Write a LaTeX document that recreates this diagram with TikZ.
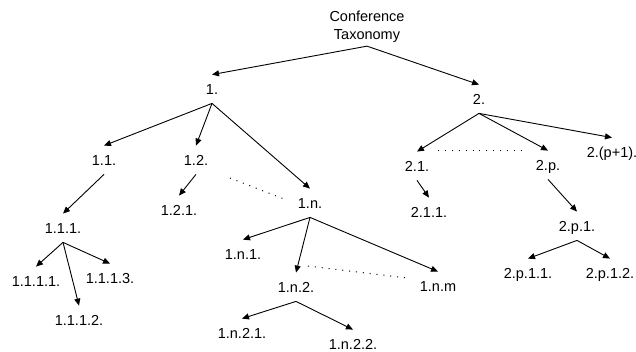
\documentclass[tikz,border=0pt]{standalone}
\usepackage{fontspec}
\setmainfont{Liberation Sans}
\usetikzlibrary{arrows.meta}
\begin{document}
\begin{tikzpicture}[x=1pt,y=-1pt,
  lbl/.style={font=\fontsize{14.5}{18}\selectfont, inner xsep=1pt, inner ysep=9pt, text height=10.4pt, text depth=0pt},
  arr/.style={-{Triangle[length=7pt,width=6pt]}, line width=0.9pt},
  dotline/.style={line width=1pt, dash pattern=on 1pt off 5.9pt}]
\useasboundingbox (0,0) rectangle (636,352);
\node[font=\fontsize{14.5}{18}\selectfont, align=center, inner sep=3.8pt] (root) at (367,26.4) {Conference\\Taxonomy};
\node[lbl] (n1) at (212,89) {1.};
\node[lbl] (n2) at (479,99) {2.};
\node[lbl] (n11) at (104,160) {1.1.};
\node[lbl] (n12) at (196,160) {1.2.};
\node[lbl] (n1n) at (310,203) {1.n.};
\node[lbl] (n21) at (417,166) {2.1.};
\node[lbl] (n2p) at (548,165) {2.p.};
\node[lbl] (n2q) at (612,152) {2.(p+1).};
\node[lbl] (n111) at (63,228) {1.1.1.};
\node[lbl] (n121) at (179,210) {1.2.1.};
\node[lbl] (n211) at (429,212) {2.1.1.};
\node[lbl] (n2p1) at (577,226) {2.p.1.};
\node[lbl] (n1111) at (36,281) {1.1.1.1.};
\node[lbl] (n1113) at (110,278) {1.1.1.3.};
\node[lbl] (n1112) at (79,320) {1.1.1.2.};
\node[lbl] (n1n1) at (243,254) {1.n.1.};
\node[lbl] (n1n2) at (296,287) {1.n.2.};
\node[lbl] (n1nm) at (438,286) {1.n.m};
\node[lbl] (n1n21) at (242,333) {1.n.2.1.};
\node[lbl] (n1n22) at (353,344) {1.n.2.2.};
\node[lbl] (n2p11) at (528,273) {2.p.1.1.};
\node[lbl] (n2p12) at (610,273) {2.p.1.2.};
\draw[arr] (root.south) -- (n1.north);
\draw[arr] (root.south) -- (n2.north);
\draw[arr] (n1.south) -- (n11.north);
\draw[arr] (n1.south) -- (n12.north);
\draw[arr] (n1.south) -- (n1n.north);
\draw[arr] (n2.south) -- (n21.north);
\draw[arr] (n2.south) -- (n2p.north);
\draw[arr] (n2.south) -- (n2q.north);
\draw[arr] (n11.south) -- (n111.north);
\draw[arr] (n12.south) -- (n121.north);
\draw[arr] (n21.south) -- (n211.north);
\draw[arr] (n2p.south) -- (n2p1.north);
\draw[arr] (n111.south) -- (n1111.north);
\draw[arr] (n111.south) -- (n1112.north);
\draw[arr] (n111.south) -- (n1113.north);
\draw[arr] (n1n.south) -- (n1n1.north);
\draw[arr] (n1n.south) -- (n1n2.north);
\draw[arr] (n1n.south) -- (n1nm.north);
\draw[arr] (n1n2.south) -- (n1n21.north);
\draw[arr] (n1n2.south) -- (n1n22.north);
\draw[arr] (n2p1.south) -- (n2p11.north);
\draw[arr] (n2p1.south) -- (n2p12.north);
\coordinate (da1) at (230,178);
\coordinate (da2) at (284,199);
\coordinate (db1) at (438,151);
\coordinate (db2) at (522,151);
\coordinate (dc1) at (308,266);
\coordinate (dc2) at (407,278);
\draw[dotline] (da1) -- (da2);
\draw[dotline] (db1) -- (db2);
\draw[dotline] (dc1) -- (dc2);
\end{tikzpicture}
\end{document}
